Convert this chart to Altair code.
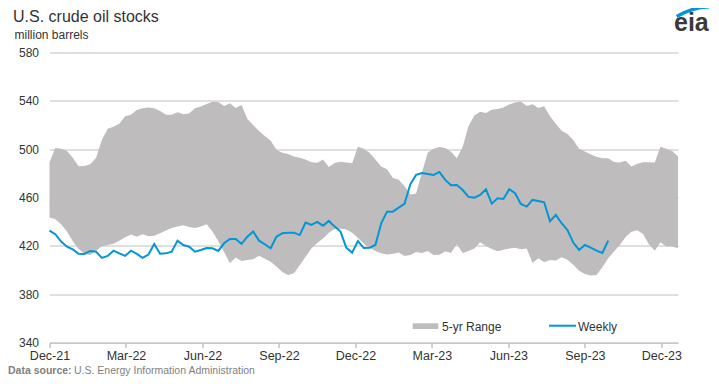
import altair as alt
import pandas as pd

# ---- data (million barrels, weekly) ----
weekly_values = [
    432.7, 429.7, 423.6, 419.4, 417.2, 413.6, 413.4, 415.9, 415.3, 410.1,
    411.8, 416.1, 413.9, 411.8, 416.1, 413.4, 410.1, 412.9, 421.7, 413.6,
    413.9, 415.3, 424.4, 420.8, 419.4, 415.3, 416.7, 418.3, 418.1, 415.9,
    422.2, 425.8, 425.8, 421.7, 427.7, 431.9, 424.4, 421.4, 418.1, 427.7,
    430.5, 431.0, 431.0, 429.0, 439.3, 437.4, 439.9, 436.8, 440.7, 436.0,
    431.9, 418.6, 414.5, 424.1, 418.3, 418.6, 420.8, 438.8, 448.4, 448.4,
    451.7, 454.8, 471.0, 478.8, 480.4, 479.6, 478.8, 481.2, 474.6, 470.2,
    470.5, 466.3, 460.6, 460.0, 462.2, 466.9, 455.0, 459.4, 458.9, 466.9,
    463.6, 454.8, 452.6, 458.1, 457.2, 456.1, 440.4, 445.7, 438.8, 433.2,
    422.8, 416.7, 420.8, 418.6, 416.1, 414.2, 424.4,
]

range_high = [
    489.0, 501.0, 500.5, 498.5, 493.0, 486.0, 486.2, 487.5, 493.0, 507.7,
    517.0, 518.5, 521.0, 527.3, 528.6, 532.4, 533.8, 534.6, 533.9, 531.6,
    528.5, 528.5, 530.6, 529.0, 529.5, 533.8, 535.3, 537.5, 539.2, 539.0,
    535.7, 538.0, 534.0, 536.5, 525.0, 520.0, 515.0, 511.0, 507.0, 499.5,
    497.0, 496.0, 494.0, 493.0, 491.5, 489.3, 488.8, 491.5, 485.3, 488.7,
    489.6, 489.0, 488.5, 502.0, 500.3, 497.0, 491.5, 485.7, 483.5, 476.3,
    474.7, 469.5, 462.5, 463.4, 481.0, 497.0, 500.4, 501.8, 501.0, 498.0,
    492.6, 502.0, 519.0, 528.0, 531.0, 530.0, 532.7, 533.3, 534.5, 537.0,
    538.6, 539.5, 535.8, 537.3, 534.0, 535.5, 527.2, 521.0, 515.2, 512.5,
    507.6, 500.5, 498.1, 495.6, 493.7, 492.6, 492.6, 489.5, 489.0, 490.5,
    485.7, 488.0, 489.2, 489.2, 489.0, 502.0, 500.5, 498.5, 494.0,
]

range_low = [
    443.5, 442.0, 438.0, 432.0, 424.0, 417.5, 413.5, 412.5, 416.0, 419.8,
    420.9, 421.8, 424.3, 427.2, 429.5, 427.6, 429.6, 428.0, 428.5, 430.5,
    432.8, 434.9, 436.2, 437.2, 435.7, 434.9, 436.2, 438.0, 432.0, 424.0,
    415.0, 405.8, 410.5, 407.5, 408.3, 409.0, 412.0, 409.5, 407.0, 403.0,
    398.5, 396.0, 397.5, 404.0, 411.0, 418.0, 422.5, 426.2, 431.0, 434.0,
    434.2, 433.6, 431.0, 426.5, 422.0, 418.3, 415.8, 414.0, 413.0, 413.5,
    414.5, 411.8, 412.6, 415.1, 414.1, 415.8, 412.6, 412.7, 415.5, 414.3,
    421.5, 414.2, 415.8, 418.0, 423.0, 420.0, 417.4, 415.6, 416.8, 418.0,
    418.6, 417.2, 418.0, 406.0, 409.8, 406.5, 408.4, 408.0, 410.6, 408.5,
    404.5, 399.5, 396.8, 395.5, 396.0, 402.5, 409.8, 415.5, 420.8, 427.5,
    431.8, 433.0, 430.0, 421.5, 416.0, 423.0, 419.5, 419.5, 418.1,
]

tick_dates = ["2021-12-03", "2022-03-05", "2022-06-05", "2022-09-05", "2022-12-06",
              "2023-03-08", "2023-06-08", "2023-09-08", "2023-12-09"]
y_ticks = [340, 380, 420, 460, 500, 540, 580]

dates = pd.date_range("2021-12-03", periods=len(range_high), freq="7D").strftime("%Y-%m-%d")
range_df = pd.DataFrame({"date": dates, "lo": range_low, "hi": range_high})
weekly_df = pd.DataFrame({"date": dates[: len(weekly_values)], "value": weekly_values})

FONT = "Liberation Sans"
W, H = 628.5, 290.2


def utc(s):
    y, m, d = (int(p) for p in s.split("-"))
    return alt.DateTime(year=y, month=m, date=d, utc=True)


x_enc = alt.X(
    "date:T",
    scale=alt.Scale(type="utc", domain=[utc("2021-12-03"), utc("2023-12-29")]),
    axis=alt.Axis(
        values=[utc(d) for d in tick_dates],
        labelExpr="utcFormat(datum.value, '%b-%y')",
        title=None, grid=False, domain=True, domainColor="#bfbfbf", ticks=True,
        tickColor="#a6a6a6", tickSize=5, labelPadding=2, labelFontSize=12.5,
        labelColor="#333333", labelFont=FONT, labelFlush=False,
    ),
)
y_scale = alt.Scale(domain=[340, 580], nice=False, zero=False)
y_axis = alt.Axis(
    values=y_ticks, title=None, grid=True, gridColor="#bfbfbf", gridWidth=1,
    domain=False, ticks=False, labelPadding=11, labelFontSize=12,
    labelColor="#333333", labelFont=FONT,
)

area = alt.Chart(range_df).mark_area(color="#bebcbd", opacity=1).encode(
    x=x_enc,
    y=alt.Y("lo:Q", scale=y_scale, axis=y_axis),
    y2="hi:Q",
)
line = alt.Chart(weekly_df).mark_line(color="#0096d7", strokeWidth=2).encode(
    x=alt.X("date:T"),
    y=alt.Y("value:Q"),
)

one = pd.DataFrame({"a": [0]})


def text(t, x, y, size, color="#333333", weight="normal", align="left"):
    return alt.Chart(one).mark_text(
        text=t, fontSize=size, font=FONT, color=color, fontWeight=weight,
        align=align, baseline="alphabetic",
    ).encode(x=alt.value(x), y=alt.value(y))


title = text("U.S. crude oil stocks", -36.5, -30.5, 16)
subtitle = text("million barrels", -35, -13.5, 12)
logo_txt = text("eia", 624.5, -21.5, 25, color="#3a3a3a", weight="bold")
logo_arc = alt.Chart(one).mark_arc(
    radius=70, radius2=66.5, theta=5.74, theta2=6.24, color="#0096d7"
).encode(x=alt.value(662.5), y=alt.value(22.5))

leg_rect = alt.Chart(one).mark_rect(color="#bebcbd").encode(
    x=alt.value(363.2), x2=alt.value(388.8), y=alt.value(270.8), y2=alt.value(276.5)
)
leg_rect_txt = text("5-yr Range", 392.5, 278, 12)
leg_line = alt.Chart(one).mark_rule(color="#0096d7", strokeWidth=2).encode(
    x=alt.value(499.5), x2=alt.value(526.5), y=alt.value(273.2)
)
leg_line_txt = text("Weekly", 528.5, 278, 12)

src_bold = text("Data source:", -41.5, 321, 10.5, color="#7f7f7f", weight="bold")
src_txt = text("U.S. Energy Information Administration", 24.5, 321, 10.5, color="#7f7f7f")

chart = alt.layer(
    area, line, title, subtitle, logo_txt, logo_arc,
    leg_rect, leg_rect_txt, leg_line, leg_line_txt, src_bold, src_txt,
).properties(
    width=W, height=H,
    autosize=alt.AutoSizeParams(type="none"),
    padding={"left": 41.5, "top": 44.5, "right": 33, "bottom": 33.3},
).configure_view(stroke=None)

chart.save("out.html", embed_options={"renderer": "svg", "actions": False})
